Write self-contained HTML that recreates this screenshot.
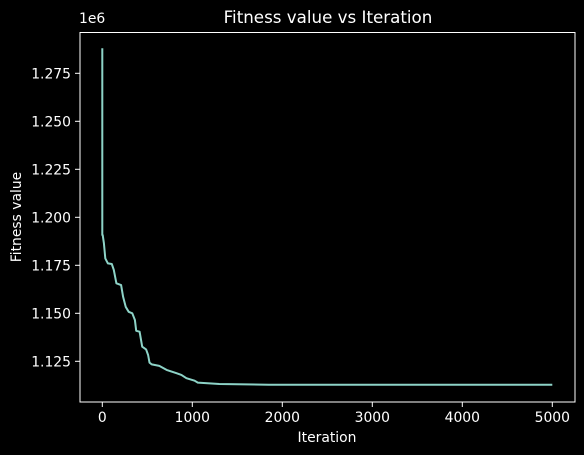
<!DOCTYPE html>
<html><head><meta charset="utf-8"><style>
html,body{margin:0;padding:0;background:#000;}
svg{display:block;font-family:"DejaVu Sans","Liberation Sans",sans-serif;}
</style></head><body>
<svg id="chart" width="584" height="455" viewBox="0 0 584 455" xmlns="http://www.w3.org/2000/svg">
<rect x="0" y="0" width="584" height="455" fill="#000"/>
<text x="328" y="23" fill="#fff" font-size="16.7" text-anchor="middle">Fitness value vs Iteration</text>
<text x="327" y="442" fill="#fff" font-size="13.9" text-anchor="middle">Iteration</text>
<text transform="translate(21,217) rotate(-90)" fill="#fff" font-size="13.9" text-anchor="middle">Fitness value</text>
<text x="79" y="23" fill="#fff" font-size="13.9">1e6</text>
<g id="ticks"></g>
<path id="line" fill="none" stroke="#8dd3c7" stroke-width="2" stroke-linejoin="round"/>
<rect x="80" y="32.5" width="495" height="369.5" fill="none" stroke="#fff" stroke-width="1"/>
</svg>
<script>
const iterations=[0,0,4,18,33,62,106,128,157,209,231,260,293,333,362,377,414,443,487,509,524,549,633,714,824,879,934,1025,1061,1300,1850,5000];
const fitness=[1.288,1.1908,1.1908,1.1865,1.1786,1.176,1.1757,1.1726,1.1656,1.1647,1.1586,1.1534,1.1508,1.150,1.1465,1.1409,1.1404,1.1326,1.1312,1.1283,1.1243,1.1234,1.1226,1.1205,1.1188,1.1179,1.1162,1.1149,1.1139,1.1132,1.1128,1.1128];
const xTicks=[0,1000,2000,3000,4000,5000];
const yTicks=[1.125,1.150,1.175,1.200,1.225,1.250,1.275];
const yTickLabels=["1.125","1.150","1.175","1.200","1.225","1.250","1.275"];
const xs=v=>102.3+v*0.09;
const ys=v=>73.3+(1.275-v)*1920;
const NS="http://www.w3.org/2000/svg";
const g=document.getElementById('ticks');
xTicks.forEach(t=>{
 const l=document.createElementNS(NS,'line');
 
 
 l.setAttribute('x1',xs(t));l.setAttribute('x2',xs(t));l.setAttribute('y1',402);l.setAttribute('y2',407);l.setAttribute('stroke','#fff');
 g.appendChild(l);
 const tx=document.createElementNS(NS,'text');
 
 
 tx.setAttribute('x',xs(t));tx.setAttribute('y',422);tx.setAttribute('fill','#fff');tx.setAttribute('font-size','13.9');tx.setAttribute('text-anchor','middle');
 tx.textContent=String(t);g.appendChild(tx);
});
yTicks.forEach((t,i)=>{
 const l=document.createElementNS(NS,'line');
 
 
 l.setAttribute('x1',75);l.setAttribute('x2',80);l.setAttribute('y1',ys(t));l.setAttribute('y2',ys(t));l.setAttribute('stroke','#fff');
 g.appendChild(l);
 const tx=document.createElementNS(NS,'text');
 
 
 tx.setAttribute('x',71);tx.setAttribute('y',ys(t)+5);tx.setAttribute('fill','#fff');tx.setAttribute('font-size','13.9');tx.setAttribute('text-anchor','end');
 tx.textContent=yTickLabels[i];g.appendChild(tx);
});
document.getElementById('line').setAttribute('d',iterations.map((v,i)=>(i?'L':'M')+xs(v).toFixed(1)+','+ys(fitness[i]).toFixed(1)).join(' '));
</script>
</body></html>
